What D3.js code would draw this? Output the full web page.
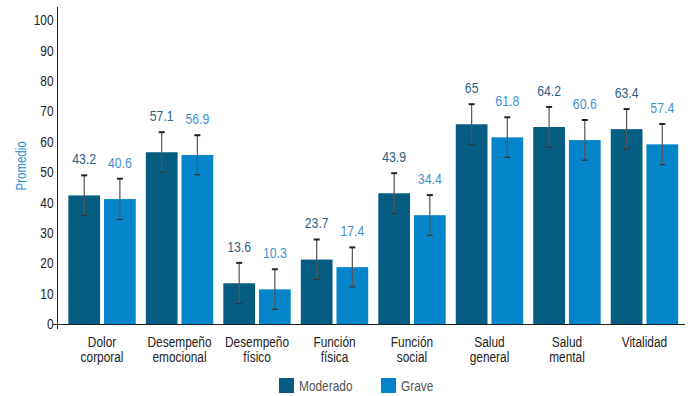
<!DOCTYPE html>
<html>
<head>
<meta charset="utf-8">
<script src="https://cdn.jsdelivr.net/npm/d3@7"></script>
<style>
body { margin: 0; background: #fff; }
svg { display: block; font-family: "Liberation Sans", Arial, sans-serif; }
</style>
</head>
<body>
<div id="chart"></div>
<script>
// categorias y series (barras, etiquetas tal como aparecen)
const categorias = [["Dolor", "corporal"], ["Desempeño", "emocional"], ["Desempeño", "físico"], ["Función", "física"],
  ["Función", "social"], ["Salud", "general"], ["Salud", "mental"], ["Vitalidad"]];
const series = ["Moderado", "Grave"];
const moderado = [42.3, 56.5, 13.4, 21.2, 43.0, 65.7, 64.8, 64.1];
const grave = [41.1, 55.6, 11.4, 18.7, 35.8, 61.4, 60.5, 59.1];
const errModerado = [6.6, 6.6, 6.7, 6.6, 6.6, 6.6, 6.6, 6.6];
const errGrave = [6.7, 6.5, 6.6, 6.5, 6.6, 6.6, 6.6, 6.7];
const etiqModerado = ["43.2", "57.1", "13.6", "23.7", "43.9", "65", "64.2", "63.4"];
const etiqGrave = ["40.6", "56.9", "10.3", "17.4", "34.4", "61.8", "60.6", "57.4"];
const yTicks = [0, 10, 20, 30, 40, 50, 60, 70, 80, 90, 100];

const W = 690, H = 396;
const colores = { Moderado: "#065d82", Grave: "#0585c9" };
const colorEtiq = { Moderado: "#2c6285", Grave: "#3f92cf" };
const estrecho = 0.82; // la fuente original es condensada

const svg = d3.select("#chart").append("svg").attr("width", W).attr("height", H);

// pasa x,y a un transform con escala horizontal
function condensar(sel, fx, fy) {
  sel.attr("transform", (d, i) => "translate(" + fx(d, i) + "," + fy(d, i) + ") scale(" + estrecho + ",1)");
}

const y = d3.scaleLinear().domain([0, 100]).range([324, 20]);
const x0 = d3.scaleBand().domain(d3.range(categorias.length)).range([57.5, 689])
  .paddingInner(0.13).paddingOuter(0.14);
const x1 = d3.scaleBand().domain(series).range([0, x0.bandwidth()]).paddingInner(0.11);

// eje y
const yAxis = svg.append("g").attr("transform", "translate(57.5,0)")
  .call(d3.axisLeft(y).tickValues(yTicks).tickSize(0).tickPadding(4));
yAxis.select(".domain").remove();
yAxis.selectAll("text").attr("font-size", 14.5).attr("fill", "#222").attr("font-family", null)
  .attr("x", null).attr("transform", "translate(-4,0) scale(" + estrecho + ",1)");

svg.append("line").attr("x1", 57.5).attr("x2", 57.5).attr("y1", 7).attr("y2", 329)
  .attr("stroke", "#222").attr("stroke-width", 1);
svg.append("line").attr("x1", 53).attr("x2", 685).attr("y1", y(0) + 0.5).attr("y2", y(0) + 0.5)
  .attr("stroke", "#222").attr("stroke-width", 1);

svg.append("text").attr("transform", "translate(26," + y(52) + ") rotate(-90) scale(" + estrecho + ",1)")
  .attr("text-anchor", "middle").attr("font-size", 14).attr("fill", "#1f8fd0").text("Promedio");

const datos = categorias.map((c, i) => ({
  i: i,
  valores: [
    { s: "Moderado", v: moderado[i], e: errModerado[i], t: etiqModerado[i] },
    { s: "Grave", v: grave[i], e: errGrave[i], t: etiqGrave[i] }
  ]
}));

const grupos = svg.selectAll("g.grupo").data(datos).enter().append("g")
  .attr("class", "grupo").attr("transform", d => "translate(" + x0(d.i) + ",0)");

grupos.selectAll("rect").data(d => d.valores).enter().append("rect")
  .attr("x", d => x1(d.s)).attr("width", x1.bandwidth())
  .attr("y", d => y(d.v)).attr("height", d => y(0) - y(d.v))
  .attr("fill", d => colores[d.s]);

// barras de error
const eb = grupos.selectAll("g.err").data(d => d.valores).enter().append("g").attr("class", "err")
  .attr("transform", d => "translate(" + (x1(d.s) + x1.bandwidth() / 2) + ",0)");
eb.append("line").attr("x1", 0).attr("x2", 0)
  .attr("y1", d => y(d.v + d.e)).attr("y2", d => y(d.v - d.e))
  .attr("stroke", "#555").attr("stroke-width", 1.2);
eb.append("line").attr("x1", -3).attr("x2", 3)
  .attr("y1", d => y(d.v + d.e)).attr("y2", d => y(d.v + d.e))
  .attr("stroke", "#222").attr("stroke-width", 2);
eb.append("line").attr("x1", -3).attr("x2", 3)
  .attr("y1", d => y(d.v - d.e)).attr("y2", d => y(d.v - d.e))
  .attr("stroke", "#333").attr("stroke-width", 1.2);

const vals = grupos.selectAll("text.val").data(d => d.valores).enter().append("text").attr("class", "val")
  .attr("text-anchor", "middle").attr("font-size", 15)
  .attr("fill", d => colorEtiq[d.s]).text(d => d.t);
condensar(vals, d => x1(d.s) + x1.bandwidth() / 2, d => y(d.v + d.e) - 11);

// etiquetas de categoria
const etq = svg.selectAll("text.cat").data(datos).enter().append("text").attr("class", "cat")
  .attr("text-anchor", "middle").attr("font-size", 14.5).attr("fill", "#222");
condensar(etq, d => x0(d.i) + x0.bandwidth() / 2, d => 347);
etq.selectAll("tspan").data(d => categorias[d.i]).enter().append("tspan")
  .attr("x", 0).attr("dy", (d, k) => k === 0 ? 0 : 15).text(d => d);

// leyenda
const leyX = [279, 381];
const ley = svg.selectAll("g.ley").data(series).enter().append("g").attr("class", "ley")
  .attr("transform", (d, i) => "translate(" + leyX[i] + ",378)");
ley.append("rect").attr("width", 15).attr("height", 15).attr("fill", d => colores[d]);
ley.append("text").attr("font-size", 14.5).attr("fill", "#555")
  .attr("transform", "translate(20,12.5) scale(" + estrecho + ",1)").text(d => d);
</script>
</body>
</html>
